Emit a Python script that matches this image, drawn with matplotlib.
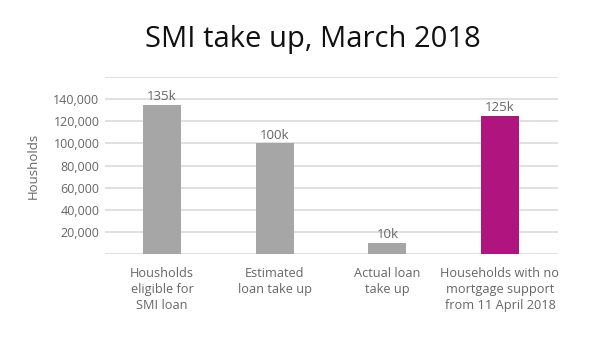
import matplotlib
matplotlib.use('Agg')
from matplotlib import pyplot as plt
from matplotlib.ticker import FuncFormatter

plt.rcParams['font.family'] = ['Open Sans', 'DejaVu Sans']

categories = ['Housholds\neligible for\nSMI loan', 'Estimated\nloan take up',
              'Actual loan\ntake up', 'Households with no\nmortgage support\nfrom 11 April 2018']
values = [135000, 100000, 10000, 125000]
value_labels = ['135k', '100k', '10k', '125k']
colors = ['#a6a6a6', '#a6a6a6', '#a6a6a6', '#b0157f']

fig = plt.figure(figsize=(6, 3.42), dpi=100)
ax = fig.add_axes([0.175, 0.257, 0.755, 0.518])

x = range(len(values))
ax.bar(x, values, width=0.34, color=colors, zorder=3)
for i, v in enumerate(values):
    ax.text(i, v + 1500, value_labels[i], ha='center', va='bottom',
            fontsize=9.5, color='#666666', zorder=4)

ax.set_ylim(0, 160000)
ax.set_xlim(-0.506, 3.515)
ax.set_yticks(range(0, 160001, 20000))
ax.yaxis.set_major_formatter(FuncFormatter(lambda v, p: '' if v in (0, 160000) else f'{int(v):,}'))
ax.grid(axis='y', color='#dddddd', linewidth=1.3, zorder=0)
for s in ax.spines.values():
    s.set_visible(False)
ax.tick_params(axis='both', length=0, labelsize=9, colors='#666666')
ax.tick_params(axis='y', pad=4)
ax.set_xticks(list(x))
ax.set_xticklabels(categories, fontsize=9.2, linespacing=1.3)
ax.tick_params(axis='x', pad=9)
ax.set_ylabel('Housholds', fontsize=9.5, color='#666666', labelpad=10)

fig.text(0.522, 0.885, 'SMI take up, March 2018', ha='center', va='center',
         fontsize=21, color='#111111')

fig.savefig('out.png', dpi=100)
